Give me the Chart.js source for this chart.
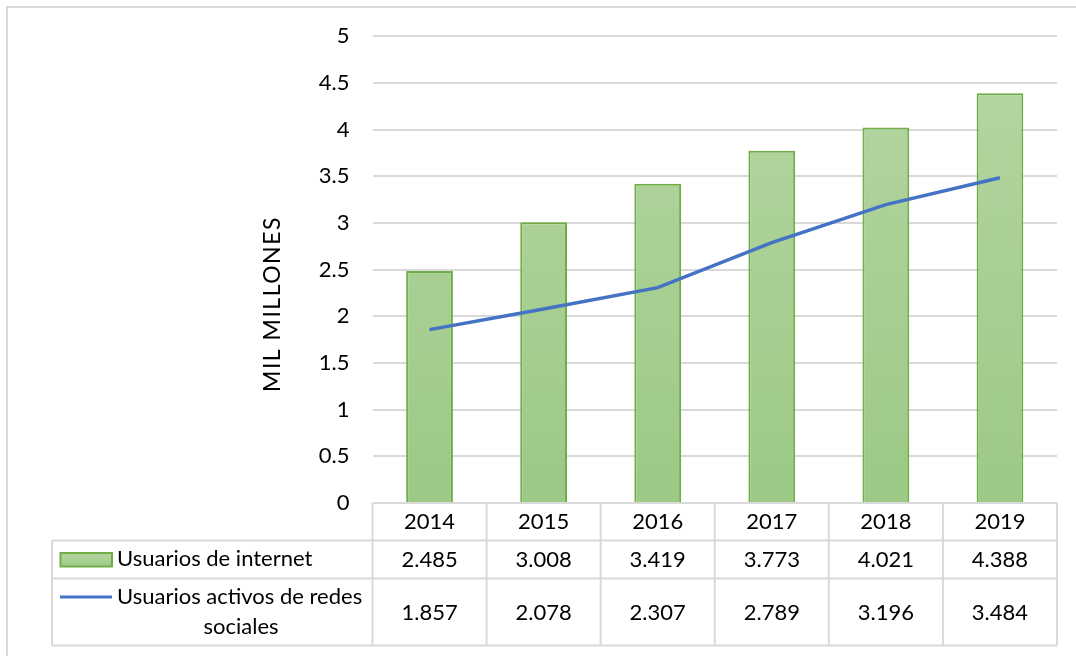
<!DOCTYPE html>
<html>
<head>
<meta charset="utf-8">
<script src="https://cdn.jsdelivr.net/npm/chart.js@4"></script>
<style>
  html, body { margin: 0; padding: 0; background: #fff; }
  #wrap { width: 1076px; height: 656px; position: relative; }
</style>
</head>
<body>
<div id="wrap"><canvas id="chart" width="1076" height="656"></canvas></div>
<script>
// data
const years = ['2014', '2015', '2016', '2017', '2018', '2019'];
const internetUsers = [2.485, 3.008, 3.419, 3.773, 4.021, 4.388];
const socialUsers = [1.857, 2.078, 2.307, 2.789, 3.196, 3.484];
const internetLabel = 'Usuarios de internet';
const socialLabel = ['Usuarios activos de redes', 'sociales'];
const yTitle = 'MIL MILLONES';
const yTicks = [0, 0.5, 1, 1.5, 2, 2.5, 3, 3.5, 4, 4.5, 5];

const FONT = "Lato, 'Open Sans', sans-serif";
const FS = 22;
const GRID = '#d9d9d9';
const GREEN_EDGE = '#70ad47';
const BLUE = '#4472c4';

const fmt = v => v.toFixed(3);

function barGradient(ctx) {
    const { chart } = ctx;
    const area = chart.chartArea;
    if (!area) return '#a9d08e';
    const g = chart.ctx.createLinearGradient(0, area.top, 0, area.bottom);
    g.addColorStop(0, '#b6d6a3');
    g.addColorStop(1, '#9cc985');
    return g;
}

// draws the outer frame, the y title and the data table under the plot
const tablePlugin = {
    id: 'dataTable',
    afterDraw(chart) {
        const { ctx, chartArea, scales } = chart;
        const x = scales.x;
        const n = years.length;
        const colW = (chartArea.right - chartArea.left) / n;
        const rowTop = chartArea.bottom;
        const row1 = 540.5, row2 = 578.5, rowEnd = 645.5, labelLeft = 52;

        ctx.save();
        // outer frame
        ctx.strokeStyle = GRID;
        ctx.lineWidth = 2;
        ctx.beginPath();
        ctx.moveTo(7, 656); ctx.lineTo(7, 7); ctx.lineTo(1076, 7);
        ctx.stroke();

        // y title
        ctx.fillStyle = '#000';
        ctx.font = '23px ' + FONT;
        ctx.textAlign = 'center';
        ctx.textBaseline = 'middle';
        ctx.save();
        ctx.translate(273, 304);
        ctx.rotate(-Math.PI / 2);
        ctx.letterSpacing = '1.5px';
        ctx.fillText(yTitle, 0, 0);
        ctx.restore();
        ctx.font = FS + 'px ' + FONT;

        // table grid
        ctx.strokeStyle = GRID;
        ctx.lineWidth = 2;
        ctx.beginPath();
        [row1, row2, rowEnd].forEach(y => { ctx.moveTo(labelLeft, y); ctx.lineTo(chartArea.right, y); });
        for (let i = 0; i <= n; i++) {
            const xx = chartArea.left + i * colW;
            ctx.moveTo(xx, rowTop); ctx.lineTo(xx, rowEnd);
        }
        ctx.moveTo(labelLeft, row1); ctx.lineTo(labelLeft, rowEnd);
        ctx.stroke();

        // cells
        ctx.fillStyle = '#000';
        years.forEach((yr, i) => {
            const cx = x.getPixelForValue(i);
            ctx.fillText(yr, cx, (rowTop + row1) / 2);
            ctx.fillText(fmt(internetUsers[i]), cx, (row1 + row2) / 2);
            ctx.fillText(fmt(socialUsers[i]), cx, (row2 + rowEnd) / 2 + 1);
        });

        // legend keys
        const g = ctx.createLinearGradient(0, 553, 0, 567);
        g.addColorStop(0, '#b6d6a3'); g.addColorStop(1, '#9cc985');
        ctx.fillStyle = g;
        ctx.fillRect(60.5, 553, 51.5, 13.5);
        ctx.strokeStyle = GREEN_EDGE;
        ctx.lineWidth = 2;
        ctx.strokeRect(60.5, 553, 51.5, 13.5);
        ctx.strokeStyle = BLUE;
        ctx.lineWidth = 3;
        ctx.beginPath(); ctx.moveTo(60, 597); ctx.lineTo(112, 597); ctx.stroke();

        ctx.fillStyle = '#000';
        ctx.textAlign = 'left';
        ctx.fillText(internetLabel, 117, 559);
        ctx.fillText(socialLabel[0], 117, 597);
        ctx.textAlign = 'center';
        ctx.fillText(socialLabel[1], 241, 627);
        ctx.restore();
    }
};

new Chart(document.getElementById('chart'), {
    type: 'bar',
    data: {
        labels: years,
        datasets: [
            {
                type: 'line',
                label: socialLabel.join(' '),
                data: socialUsers,
                borderColor: BLUE,
                borderWidth: 3.5,
                pointRadius: 0,
                tension: 0,
                order: 0
            },
            {
                label: internetLabel,
                data: internetUsers,
                backgroundColor: barGradient,
                borderColor: GREEN_EDGE,
                borderWidth: 2,
                barPercentage: 0.82,
                categoryPercentage: 0.5,
                order: 1
            }
        ]
    },
    options: {
        responsive: false,
        animation: false,
        layout: { padding: { left: 0, right: 19, top: 36, bottom: 153 } },
        plugins: { legend: { display: false }, tooltip: { enabled: false } },
        scales: {
            x: { display: false },
            y: {
                min: 0, max: 5,
                afterBuildTicks: s => { s.ticks = yTicks.map(v => ({ value: v })); },
                afterFit: s => { s.width = 372.5; },
                border: { display: false },
                grid: { color: GRID, lineWidth: 2, drawTicks: false },
                ticks: { padding: 23, color: '#000', font: { family: FONT, size: FS }, callback: v => String(v) }
            }
        }
    },
    plugins: [tablePlugin]
});
</script>
</body>
</html>
